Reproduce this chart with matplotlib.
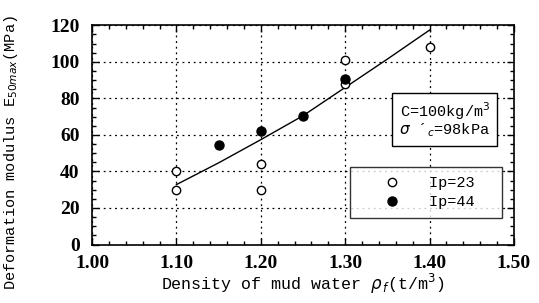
import matplotlib
matplotlib.use("Agg")
import matplotlib.pyplot as plt
from matplotlib.ticker import MultipleLocator, FormatStrFormatter
from matplotlib.lines import Line2D

# Data
ip23_x = [1.10, 1.10, 1.20, 1.20, 1.30, 1.30, 1.40]
ip23_y = [40, 30, 44, 30, 101, 88, 108]
ip44_x = [1.15, 1.20, 1.25, 1.30]
ip44_y = [54.5, 62, 70.5, 90.5]
fit_x = [1.10, 1.15, 1.20, 1.25, 1.30, 1.35, 1.40]
fit_y = [32.8, 44.7, 57.4, 70.5, 86.0, 101.5, 117.4]
legend_labels = ["Ip=23", "Ip=44"]

mono = "Liberation Mono"
serif = "Liberation Serif"

fig = plt.figure(figsize=(5.39, 3.03), dpi=100)
ax = fig.add_axes([0.1707, 0.193, 0.7829, 0.7235])

ax.plot(fit_x, fit_y, color="black", lw=1.0, zorder=3)
ax.plot(ip23_x, ip23_y, "o", mfc="white", mec="black", mew=1.0, ms=6, zorder=4)
ax.plot(ip44_x, ip44_y, "o", mfc="black", mec="black", ms=6.5, zorder=5)

ax.set_xlim(1.0, 1.5)
ax.set_ylim(0, 120)
ax.xaxis.set_major_locator(MultipleLocator(0.1))
ax.xaxis.set_minor_locator(MultipleLocator(0.02))
ax.yaxis.set_major_locator(MultipleLocator(20))
ax.yaxis.set_minor_locator(MultipleLocator(5))
ax.xaxis.set_major_formatter(FormatStrFormatter("%.2f"))
ax.tick_params(which="both", direction="in", top=True, right=True, width=1)
ax.tick_params(which="major", length=5, labelsize=14)
ax.tick_params(axis="x", which="major", pad=7.5)
ax.tick_params(axis="y", which="major", pad=9)
ax.tick_params(which="minor", length=3)
for lab in ax.get_xticklabels() + ax.get_yticklabels():
    lab.set_fontfamily(serif)
    lab.set_fontweight("bold")
ax.grid(True, which="major", color="black", ls=(0, (1.5, 3)), lw=0.9)
for s in ax.spines.values():
    s.set_linewidth(1.2)

ax.set_xlabel(r"Density of mud water $\rho_{\,f}$(t/m$^3$)", fontfamily=mono, fontsize=12, labelpad=0)
ax.set_ylabel(r"Deformation modulus E$_{50max}$(MPa)", fontfamily=mono, fontsize=11)
ax.yaxis.set_label_coords(-0.17, 0.42)

ax.text(1.418, 68.5, "C=100kg/m$^3$\n$\\sigma$ ´$_c$=98kPa", fontfamily=mono, fontsize=11,
        ha="center", va="center", linespacing=0.95,
        bbox=dict(boxstyle="square,pad=0.45", fc="white", ec="black", lw=1.0), zorder=6)

handles = [Line2D([], [], ls="none", marker="o", mfc="white", mec="black", ms=6),
           Line2D([], [], ls="none", marker="o", mfc="black", mec="black", ms=6.5)]
leg = ax.legend(handles, [l + "  " for l in legend_labels], loc="lower right",
                bbox_to_anchor=(0.972, 0.12),
                prop={"family": mono, "size": 11}, frameon=True, fancybox=False,
                edgecolor="black", handletextpad=0.35, borderpad=0.6, labelspacing=0.3,
                borderaxespad=0, handlelength=4.2)
leg.get_frame().set_linewidth(1.0)
leg.set_zorder(6)

fig.savefig("out.png", dpi=100)
